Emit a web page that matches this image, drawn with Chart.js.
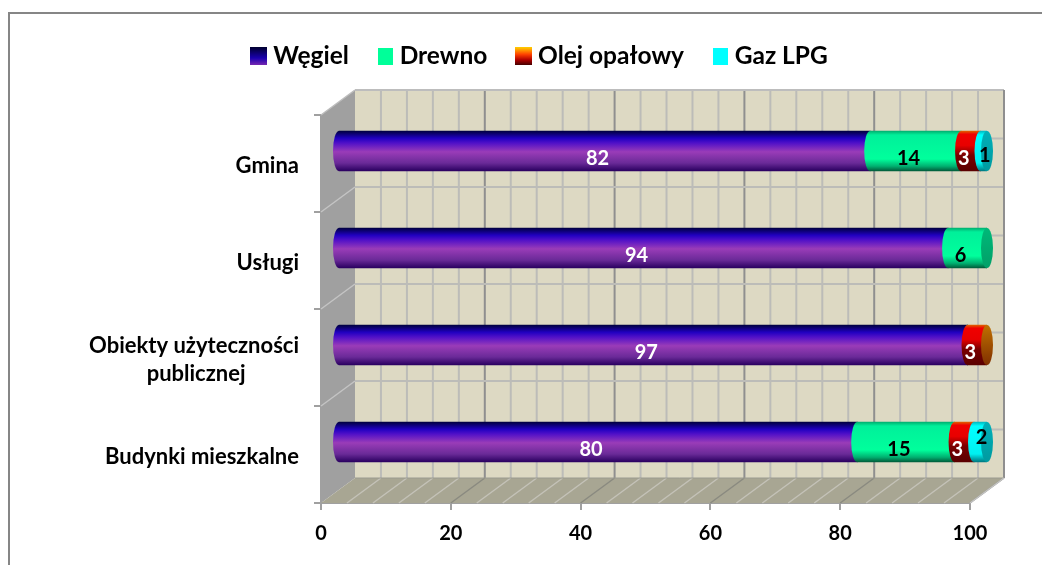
<!DOCTYPE html>
<html><head><meta charset="utf-8">
<style>html,body{margin:0;padding:0;background:#fff}#w{position:relative;width:1042px;height:565px}canvas{display:block}</style>
<script src="https://cdn.jsdelivr.net/npm/chart.js@4/dist/chart.umd.min.js"></script>
</head><body><div id="w"><canvas id="c" width="1042" height="565"></canvas></div>
<script>
const categories = ['Gmina','Usługi',['Obiekty użyteczności','publicznej'],'Budynki mieszkalne'];
const seriesNames = ['Węgiel','Drewno','Olej opałowy','Gaz LPG'];
const wegiel = [82,94,97,80];
const drewno = [14,6,0,15];
const olej   = [3,0,3,3];
const gaz    = [1,0,0,2];
const xTicks = [0,20,40,60,80,100];
const seriesValues = [wegiel,drewno,olej,gaz];

const FONT = 'Lato, "Open Sans", sans-serif';
const DX = 34, DY = 25;            // depth of the 3D box
const BAR_DX = 17, BAR_DY = 12.5;  // bars stand in the middle of the depth
const RX = 6;                      // cylinder end ellipse
const BAR_THICK = 40;

const stops = [
  [[0,'#000040'],[.18,'#2000c0'],[.3,'#5010c8'],[.52,'#9a3cb8'],[.8,'#6a2a98'],[1,'#2a0060']],
  [[0,'#00b070'],[.1,'#00f09a'],[.7,'#00ff9c'],[.88,'#00b070'],[1,'#005c3a']],
  [[0,'#e06000'],[.08,'#f00000'],[.36,'#e80000'],[.6,'#7a0000'],[1,'#5a0000']],
  [[0,'#00b8c0'],[.1,'#00ffff'],[.8,'#00f0f0'],[1,'#007880']]
];
const capColors = [
  [[0,'#2000c0'],[1,'#2a0060']],
  [[0,'#00b878'],[1,'#00a068']],
  [[0,'#c07000'],[.5,'#a05000'],[1,'#803000']],
  [[0,'#00b0b8'],[1,'#009aa0']]
];
const swatchStops = [
  [[0,'#000030'],[.6,'#1a00b0'],[1,'#7a2ab0']],
  [[0,'#00ff99'],[1,'#00ff99']],
  [[0,'#ffd000'],[.4,'#ff4000'],[.7,'#b00000'],[1,'#400000']],
  [[0,'#00ffff'],[1,'#00ffff']]
];
const labelColors = ['#fff','#000','#fff','#000'];

function vgrad(ctx, top, bottom, s){
  const g = ctx.createLinearGradient(0, top, 0, bottom);
  s.forEach(p => g.addColorStop(p[0], p[1]));
  return g;
}
function swatch(i){
  const cv = document.createElement('canvas');
  cv.width = i===0||i===2 ? 17 : 15; cv.height = i===0||i===2 ? 18 : 17;
  const x = cv.getContext('2d');
  x.fillStyle = vgrad(x,0,cv.height,swatchStops[i]);
  x.fillRect(0,0,cv.width,cv.height);
  return cv;
}
const swatches = seriesNames.map((_,i)=>swatch(i));

const box3d = {
  id:'box3d',
  beforeInit(chart){
    const fit = chart.legend.fit;
    chart.legend.fit = function(){ fit.call(this); this.height = 115; };
  },
  afterLayout(chart){
    chart.legend.left = 222.5;
    chart.legend.top = 10;
  },
  beforeDatasetsDraw(chart){
    const {ctx, scales:{x,y}, chartArea:a} = chart;
    ctx.save();
    const L=a.left,R=a.right,T=a.top,B=a.bottom;
    ctx.fillStyle='#ddd9c3';
    ctx.fillRect(L+DX,T-DY,R-L,B-T);
    ctx.fillStyle='#a0a0a0';
    ctx.beginPath();ctx.moveTo(L,T);ctx.lineTo(L+DX,T-DY);ctx.lineTo(L+DX,B-DY);ctx.lineTo(L,B);ctx.closePath();ctx.fill();
    ctx.fillStyle='#a8a693';
    ctx.beginPath();ctx.moveTo(L,B);ctx.lineTo(L+DX,B-DY);ctx.lineTo(R+DX,B-DY);ctx.lineTo(R,B);ctx.closePath();ctx.fill();
    const line=(x0,y0,x1,y1,c,w)=>{ctx.strokeStyle=c;ctx.lineWidth=w;ctx.beginPath();ctx.moveTo(x0,y0);ctx.lineTo(x1,y1);ctx.stroke();};
    for(let v=4;v<=100;v+=4){
      const px=x.getPixelForValue(v);
      const major=v%20===0;
      line(px+DX,T-DY,px+DX,B-DY,major?'#8f8f8f':'#bcbcb8',2);
      line(px,B,px+DX,B-DY,major?'#8a8a80':'#c4c2b8',1.5);
    }
    const band=(B-T)/categories.length;
    for(let i=0;i<categories.length*2;i++){
      const py=T-DY+i*band/2;
      line(L+DX,py,R+DX,py,'#bcbcb8',2);
    }
    for(let i=1;i<categories.length;i++){
      const py=T+i*band;
      line(L,py,L+DX,py-DY,'#c4c4c4',1.5);
    }
    line(L,T,L+DX,T-DY,'#bdbdbd',1.5);
    line(L+DX,T-DY,R+DX,T-DY,'#bdbdbd',2);
    line(R+DX,T-DY,R+DX,B-DY,'#8f8f8f',2);
    line(L+DX,B-DY,R+DX,B-DY,'#9a9a90',1);
    line(R,B,R+DX,B-DY,'#c4c4c4',1.5);
    ctx.restore();
  },
  beforeDatasetDraw(chart){ chart.ctx.save(); chart.ctx.translate(BAR_DX,-BAR_DY); },
  afterDatasetDraw(chart){ chart.ctx.restore(); },
  afterDatasetsDraw(chart){
    const {ctx}=chart;
    ctx.save();
    ctx.translate(BAR_DX,-BAR_DY);
    chart.data.datasets.forEach((ds,i)=>{
      chart.getDatasetMeta(i).data.forEach((el,j)=>{
        if(!seriesValues[i][j]) return;
        const {x,y,base,height}=el.getProps(['x','y','base','height'],true);
        const t=y-height/2,b=y+height/2;
        ctx.fillStyle=vgrad(ctx,t,b,stops[i]);
        // left round end, overlapping the segment's own fill so no seam shows
        ctx.beginPath();
        ctx.ellipse(base,y,RX,height/2,0,Math.PI/2,Math.PI*1.5);
        ctx.lineTo(base+2,t);ctx.lineTo(base+2,b);ctx.closePath();ctx.fill();
        const last=seriesValues.slice(i+1).every(s=>!s[j]);
        if(last){
          ctx.fillStyle=vgrad(ctx,t,b,capColors[i]);
          ctx.beginPath();ctx.ellipse(x,y,RX,height/2,0,0,Math.PI*2);ctx.fill();
        }
      });
    });
    ctx.restore();
    ctx.save();
    ctx.font='bold 20px '+FONT;ctx.textAlign='center';ctx.textBaseline='middle';
    chart.data.datasets.forEach((ds,i)=>{
      chart.getDatasetMeta(i).data.forEach((el,j)=>{
        const v=ds.data[j]; if(!v) return;
        const {x,y,base}=el.getProps(['x','y','base'],true);
        let px=(x+base)/2+BAR_DX-7, py=y-BAR_DY+8;
        if(i===3){ px+=8; py+= v===2?-12:-3; }
        ctx.fillStyle=labelColors[i];
        ctx.fillText(String(v),px,py);
      });
    });
    ctx.restore();
  }
};
const frame = {
  id:'frame',
  beforeDraw(chart){
    const {ctx}=chart;
    ctx.save();ctx.strokeStyle='#868686';ctx.lineWidth=2;
    ctx.beginPath();ctx.moveTo(9,565);ctx.lineTo(9,13);ctx.lineTo(1042,13);ctx.stroke();
    ctx.restore();
  }
};

new Chart(document.getElementById('c'),{
  type:'bar',
  plugins:[frame,box3d],
  data:{labels:categories,datasets:seriesNames.map((n,i)=>({
    label:n,data:seriesValues[i],borderWidth:0,
    pointStyle:swatches[i],
    backgroundColor(c){
      if(!c.chart.chartArea||c.dataIndex===undefined) return swatchStops[i][0][1];
      const y=c.chart.scales.y.getPixelForValue(c.dataIndex);
      return vgrad(c.chart.ctx,y-BAR_THICK/2,y+BAR_THICK/2,stops[i]);
    }
  }))},
  options:{
    indexAxis:'y',responsive:false,animation:false,
    layout:{padding:{top:0,left:0,right:72,bottom:0}},
    datasets:{bar:{categoryPercentage:1,barThickness:BAR_THICK}},
    plugins:{
      tooltip:{enabled:false},
      legend:{display:true,position:'top',align:'start',
        labels:{usePointStyle:true,boxWidth:4.5,boxHeight:15,padding:34,color:'#000',
          font:{family:FONT,size:24.5,weight:'bold'}}
      }
    },
    scales:{
      x:{type:'linear',stacked:true,min:0,max:100,
        afterBuildTicks(s){s.ticks=xTicks.map(v=>({value:v}));},
        afterFit(s){s.height=62;},
        grid:{display:true,drawOnChartArea:false,drawTicks:true,tickLength:7,color:'#a0a0a0',lineWidth:2},
        border:{display:true,color:'#a0a0a0',width:2},
        ticks:{color:'#000',padding:12,maxRotation:0,font:{family:FONT,size:20,weight:'bold'}}
      },
      y:{type:'category',stacked:true,
        afterFit(s){s.width=321;},
        grid:{display:true,drawOnChartArea:false,drawTicks:true,tickLength:7,color:'#a0a0a0',lineWidth:2,offset:true},
        border:{display:true,color:'#a0a0a0',width:2},
        ticks:{color:'#000',padding:15,autoSkip:false,labelOffset:2,
          font:{family:FONT,size:22,weight:'bold',lineHeight:1.28},
          callback(v){
            const l=this.getLabelForValue(v), raw=categories[v];
            // second line of the wrapped label sits centred under the first
            return Array.isArray(raw)?[raw[0],raw[1]+'\u00A0'.repeat(10)]:l;
          }}
      }
    }
  }
});
</script></body></html>
